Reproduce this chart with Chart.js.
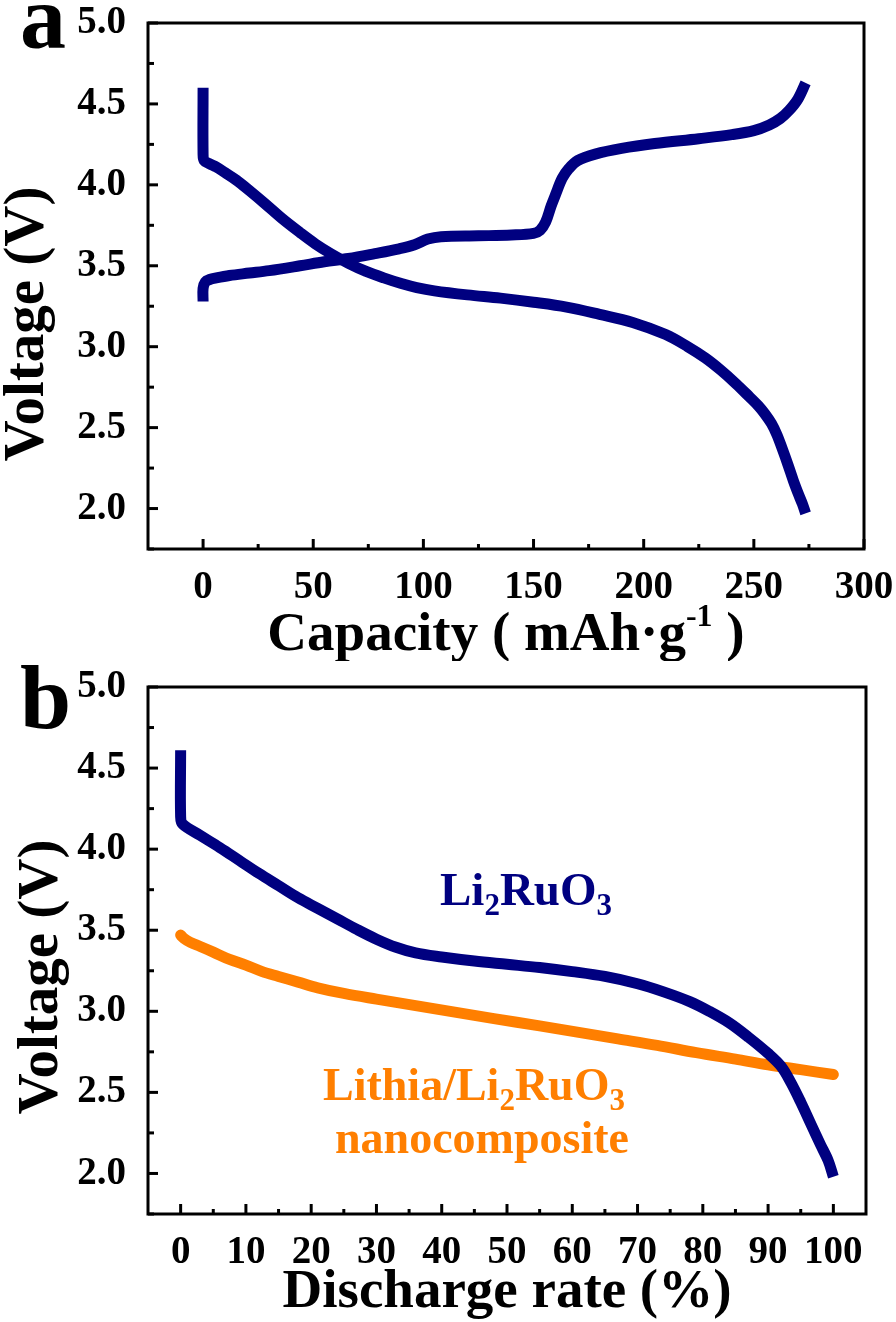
<!DOCTYPE html>
<html><head><meta charset="utf-8">
<script src="https://cdn.jsdelivr.net/npm/chart.js@4.4.1/dist/chart.umd.min.js"></script>
<style>
html,body{margin:0;padding:0;background:#fff;}
#wrap{position:relative;width:896px;height:1322px;background:#fff;}
canvas{position:absolute;left:0;}
#ca{top:0;} #cb{top:661px;}
</style></head><body>
<div id="wrap">
<canvas id="ca" width="896" height="661" style="width:896px;height:661px"></canvas>
<canvas id="cb" width="896" height="661" style="width:896px;height:661px"></canvas>
</div>
<script>
// ---- tick labels ----
const capacityTicks = [0, 50, 100, 150, 200, 250, 300];
const rateTicks = [0, 10, 20, 30, 40, 50, 60, 70, 80, 90, 100];
const voltageTicks = [2.0, 2.5, 3.0, 3.5, 4.0, 4.5, 5.0];

// ---- panel a: charge / discharge vs capacity (mAh/g) ----
const chargeCapacity = [0, 0, 1, 3, 6, 12, 21, 30, 44, 55, 66, 78, 89, 96, 102, 108, 125, 140, 150, 153, 155.5, 158, 160, 163, 166, 170, 178, 190, 205, 225, 240, 250, 257, 262, 266, 270, 273.5];
const chargeVoltage  = [3.28, 3.36, 3.40, 3.415, 3.425, 3.44, 3.455, 3.47, 3.50, 3.525, 3.545, 3.575, 3.605, 3.63, 3.665, 3.68, 3.685, 3.69, 3.70, 3.72, 3.77, 3.87, 3.94, 4.04, 4.10, 4.15, 4.19, 4.225, 4.255, 4.285, 4.31, 4.335, 4.37, 4.41, 4.46, 4.53, 4.63];
const dischargeCapacity = [0, 0, 0.5, 3, 6, 10, 15, 21, 28, 36, 44, 51, 58, 66, 74, 82, 90, 97, 105, 120, 135, 150, 165, 180, 195, 210, 220, 228, 235, 242, 248, 252, 255, 258, 260.5, 263, 265.5, 268, 270.5, 272, 273.5];
const dischargeVoltage  = [4.60, 4.19, 4.15, 4.13, 4.11, 4.075, 4.03, 3.965, 3.885, 3.79, 3.705, 3.635, 3.575, 3.515, 3.465, 3.425, 3.39, 3.365, 3.345, 3.32, 3.30, 3.275, 3.245, 3.20, 3.15, 3.075, 3.00, 2.93, 2.855, 2.77, 2.69, 2.635, 2.585, 2.525, 2.455, 2.365, 2.27, 2.17, 2.08, 2.03, 1.97];

// ---- panel b: voltage vs discharge rate (%) ----
const rateLi2RuO3 = [0, 0, 0.3, 3, 6, 9, 12, 15, 18, 21, 24, 27, 30, 33, 36, 40, 45, 50, 55, 60, 65, 70, 74, 78, 81, 84, 87, 90, 92, 93.5, 95, 96.5, 98, 99.2, 100];
const voltLi2RuO3 = [4.61, 4.20, 4.155, 4.085, 4.01, 3.93, 3.85, 3.775, 3.70, 3.635, 3.57, 3.505, 3.445, 3.395, 3.36, 3.335, 3.31, 3.29, 3.27, 3.245, 3.215, 3.17, 3.12, 3.06, 3.00, 2.93, 2.84, 2.74, 2.66, 2.56, 2.44, 2.31, 2.18, 2.08, 1.98];
const rateNano = [0, 0.5, 1.5, 3, 5, 7.5, 10, 12.5, 15, 18, 21, 25, 30, 36, 42, 48, 55, 61, 67, 73, 79, 85, 90, 95, 100];
const voltNano = [3.47, 3.45, 3.425, 3.40, 3.365, 3.32, 3.285, 3.245, 3.215, 3.18, 3.145, 3.11, 3.075, 3.035, 2.995, 2.955, 2.91, 2.87, 2.83, 2.79, 2.745, 2.705, 2.67, 2.64, 2.61];

const NAVY = '#000080';
const ORANGE = '#FF7F00';
const FONT = "'Liberation Serif', 'Times New Roman', serif";

function pts(xs, ys) { return xs.map((x, i) => ({ x: x, y: ys[i] })); }

function drawParts(ctx, parts, x, y, color, align) {
  ctx.save();
  ctx.fillStyle = color;
  ctx.textBaseline = 'alphabetic';
  ctx.textAlign = 'left';
  let total = 0;
  parts.forEach(p => { ctx.font = 'bold ' + p.size + 'px ' + FONT; p.w = ctx.measureText(p.t).width; total += p.w; });
  let cx = align === 'center' ? x - total / 2 : x;
  parts.forEach(p => { ctx.font = 'bold ' + p.size + 'px ' + FONT; ctx.fillText(p.t, cx, y + (p.dy || 0)); cx += p.w; });
  ctx.restore();
}

function framePlugin(cfg) {
  return {
    id: 'frame',
    afterDraw(chart) {
      const { ctx, chartArea: a, scales } = chart;
      const xs = scales.x, ys = scales.y;
      ctx.save();
      ctx.strokeStyle = '#000';
      ctx.lineWidth = 3;
      ctx.strokeRect(a.left, a.top, a.right - a.left, a.bottom - a.top);
      ctx.lineCap = 'butt';
      const tick = (x1, y1, x2, y2) => { ctx.beginPath(); ctx.moveTo(x1, y1); ctx.lineTo(x2, y2); ctx.stroke(); };
      cfg.xTicks.forEach((v, i) => {
        const p = xs.getPixelForValue(v);
        tick(p, a.bottom, p, a.bottom - 10);
        if (i < cfg.xTicks.length - 1) {
          const m = xs.getPixelForValue((v + cfg.xTicks[i + 1]) / 2);
          tick(m, a.bottom, m, a.bottom - 5);
        }
      });
      cfg.yTicks.forEach((v, i) => {
        const p = ys.getPixelForValue(v);
        tick(a.left, p, a.left + 10, p);
        const lo = i === 0 ? v - (cfg.yTicks[1] - cfg.yTicks[0]) / 2 : (v + cfg.yTicks[i - 1]) / 2;
        if (lo >= ys.min) { const m = ys.getPixelForValue(lo); tick(a.left, m, a.left + 6, m); }
      });
      // y axis title
      ctx.save();
      ctx.translate(cfg.yTitleX, cfg.yTitleY);
      ctx.rotate(-Math.PI / 2);
      ctx.font = 'bold 57px ' + FONT;
      ctx.fillStyle = '#000';
      ctx.textAlign = 'center';
      ctx.textBaseline = 'alphabetic';
      ctx.fillText('Voltage (V)', 0, 0);
      ctx.restore();
      // x axis title
      drawParts(ctx, cfg.xTitle, (a.left + a.right) / 2, cfg.xTitleY, '#000', 'center');
      // panel letter
      ctx.font = 'bold 92px ' + FONT;
      ctx.fillStyle = '#000';
      ctx.textAlign = 'left';
      ctx.textBaseline = 'alphabetic';
      ctx.fillText(cfg.letter, 20, cfg.letterY);
      (cfg.notes || []).forEach(n => drawParts(ctx, n.parts, n.x, n.y, n.color, 'left'));
      ctx.restore();
    }
  };
}

function makeChart(id, datasets, xmin, xmax, xTicks, pad, xAxisH, cfg) {
  const tickFont = { family: FONT, weight: 'bold', size: 39 };
  return new Chart(document.getElementById(id), {
    type: 'scatter',
    data: { datasets: datasets },
    options: {
      responsive: false,
      animation: false,
      events: [],
      layout: { padding: pad },
      plugins: { legend: { display: false }, tooltip: { enabled: false } },
      elements: { point: { radius: 0 } },
      scales: {
        x: {
          type: 'linear', min: xmin, max: xmax,
          grid: { display: false }, border: { display: false },
          afterBuildTicks: s => { s.ticks = xTicks.map(v => ({ value: v })); },
          afterFit: s => { s.height = xAxisH; s.paddingLeft = 0; s.paddingRight = 0; },
          ticks: { font: tickFont, color: '#000', padding: 8, autoSkip: false, maxRotation: 0, minRotation: 0,
                   callback: v => String(v) }
        },
        y: {
          type: 'linear', min: 1.75, max: 5.0,
          grid: { display: false }, border: { display: false },
          afterBuildTicks: s => { s.ticks = voltageTicks.map(v => ({ value: v })); },
          afterFit: s => { s.width = 148; s.paddingTop = 0; s.paddingBottom = 0; },
          ticks: { font: tickFont, color: '#000', padding: 14, autoSkip: false, callback: v => Number(v).toFixed(1) }
        }
      }
    },
    plugins: [framePlugin(Object.assign({ xTicks: xTicks, yTicks: voltageTicks }, cfg))]
  });
}

const lineStyle = (color, cap) => ({ showLine: true, borderColor: color, backgroundColor: color, borderWidth: 11,
  tension: 0.35, borderCapStyle: cap, borderJoinStyle: 'round', pointRadius: 0, fill: false });

makeChart('ca', [
  Object.assign({ label: 'charge', data: pts(chargeCapacity, chargeVoltage) }, lineStyle(NAVY, 'butt')),
  Object.assign({ label: 'discharge', data: pts(dischargeCapacity, dischargeVoltage) }, lineStyle(NAVY, 'butt'))
], -25, 300, capacityTicks, { top: 23, right: 32, left: 0, bottom: 0 }, 112, {
  yTitleX: 43, yTitleY: 324, letter: 'a', letterY: 48, xTitleY: 650,
  xTitle: [{ t: 'Capacity ( mAh\u00B7g', size: 55 }, { t: '-1', size: 32, dy: -24 }, { t: ' )', size: 55 }]
});

makeChart('cb', [
  Object.assign({ label: 'Li2RuO3', data: pts(rateLi2RuO3, voltLi2RuO3) }, lineStyle(NAVY, 'butt')),
  Object.assign({ label: 'Lithia/Li2RuO3 nanocomposite', data: pts(rateNano, voltNano) }, lineStyle(ORANGE, 'round'))
], -5, 105, rateTicks, { top: 26, right: 30, left: 0, bottom: 0 }, 108, {
  yTitleX: 57, yTitleY: 316, letter: 'b', letterY: 67, xTitleY: 646,
  xTitle: [{ t: 'Discharge rate (%)', size: 55 }],
  notes: [
    { x: 440, y: 244, color: NAVY, parts: [{ t: 'Li', size: 47 }, { t: '2', size: 31, dy: 10 }, { t: 'RuO', size: 47 }, { t: '3', size: 31, dy: 10 }] },
    { x: 323, y: 439, color: ORANGE, parts: [{ t: 'Lithia/Li', size: 46 }, { t: '2', size: 31, dy: 10 }, { t: 'RuO', size: 46 }, { t: '3', size: 31, dy: 10 }] },
    { x: 335, y: 492, color: ORANGE, parts: [{ t: 'nanocomposite', size: 46 }] }
  ]
});
</script>
</body></html>
